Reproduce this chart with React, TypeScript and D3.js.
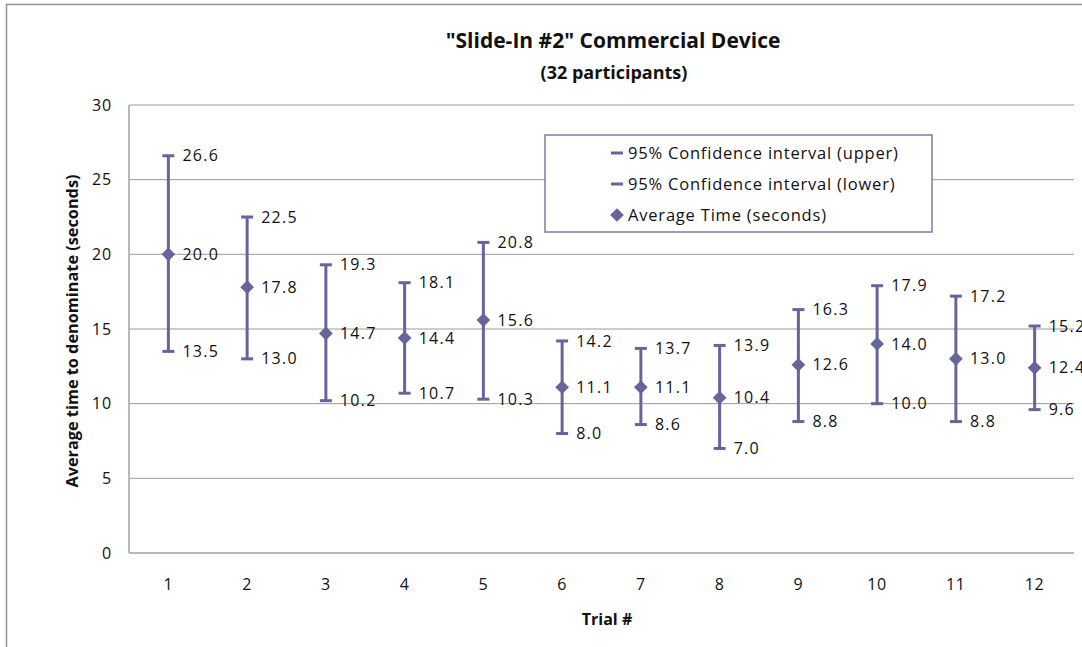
import React from "react";
import * as d3 from "d3";

const trials = ["1", "2", "3", "4", "5", "6", "7", "8", "9", "10", "11", "12"];
const avgTime = [20.0, 17.8, 14.7, 14.4, 15.6, 11.1, 11.1, 10.4, 12.6, 14.0, 13.0, 12.4];
const ciUpper = [26.6, 22.5, 19.3, 18.1, 20.8, 14.2, 13.7, 13.9, 16.3, 17.9, 17.2, 15.2];
const ciLower = [13.5, 13.0, 10.2, 10.7, 10.3, 8.0, 8.6, 7.0, 8.8, 10.0, 8.8, 9.6];
const yTicks = [0, 5, 10, 15, 20, 25, 30];
const legendItems = [
  "95% Confidence interval (upper)",
  "95% Confidence interval (lower)",
  "Average Time (seconds)",
];

const W = 1082;
const H = 647;
const FONT = "'Open Sans', sans-serif";
const SERIES = "#65659c";

export default function App() {
  const left = 129;
  const right = 1074;
  const top = 105;
  const bottom = 553;
  const x = d3.scaleBand<string>().domain(trials).range([left, right]);
  const y = d3.scaleLinear().domain([0, 30]).range([bottom, top]);
  const cx = (t: string) => (x(t) as number) + x.bandwidth() / 2;
  const diamond = d3.symbol().type(d3.symbolDiamond2).size(120)();

  return (
    <svg
      width={W}
      height={H}
      style={{ position: "fixed", left: 0, top: 0, display: "block", background: "#fff" }}
      fontFamily={FONT}
    >
      <rect x={6.5} y={4.5} width={1200} height={800} fill="#fff" stroke="#999" strokeWidth={1.6} />
      {yTicks.map((t) => (
        <line key={t} x1={left} x2={right} y1={y(t)} y2={y(t)} stroke={t === 0 ? "#b8b8b8" : "#9a9a9a"} strokeWidth={t === 0 ? 2 : 1} />
      ))}
      <line x1={left} x2={left} y1={top} y2={bottom} stroke="#b8b8b8" strokeWidth={2} />
      {yTicks.map((t) => (
        <text key={t} x={112} y={y(t)} dy="0.35em" textAnchor="end" fontSize={16} letterSpacing={0.8} fill="#111">
          {t}
        </text>
      ))}
      {trials.map((t) => (
        <text key={t} x={cx(t)} y={584} dy="0.35em" textAnchor="middle" fontSize={16} letterSpacing={0.8} fill="#111">
          {t}
        </text>
      ))}
      {trials.map((t, i) => (
        <g key={t} stroke={SERIES}>
          <line x1={cx(t)} x2={cx(t)} y1={y(ciUpper[i])} y2={y(ciLower[i])} strokeWidth={3} />
          <line x1={cx(t) - 6} x2={cx(t) + 6} y1={y(ciUpper[i])} y2={y(ciUpper[i])} strokeWidth={3} />
          <line x1={cx(t) - 6} x2={cx(t) + 6} y1={y(ciLower[i])} y2={y(ciLower[i])} strokeWidth={3} />
        </g>
      ))}
      {trials.map((t, i) => (
        <path key={t} d={diamond as string} transform={`translate(${cx(t)},${y(avgTime[i])})`} fill={SERIES} />
      ))}
      {trials.map((t, i) => (
        <g key={t} fontSize={16} letterSpacing={1.3} fill="#111">
          <text x={cx(t) + 14} y={y(ciUpper[i])} dy="0.35em">{ciUpper[i].toFixed(1)}</text>
          <text x={cx(t) + 14} y={y(avgTime[i])} dy="0.35em">{avgTime[i].toFixed(1)}</text>
          <text x={cx(t) + 14} y={y(ciLower[i])} dy="0.35em">{ciLower[i].toFixed(1)}</text>
        </g>
      ))}
      <rect x={545} y={135} width={387} height={97} fill="#fff" stroke="#7b7bac" strokeWidth={1.5} />
      {legendItems.map((item, i) => {
        const ly = 153 + i * 31;
        return (
          <g key={item}>
            {i < 2 ? (
              <line x1={611} x2={623} y1={ly} y2={ly} stroke={SERIES} strokeWidth={3} />
            ) : (
              <path d={diamond as string} transform={`translate(617,${ly})`} fill={SERIES} />
            )}
            <text x={628} y={ly} dy="0.35em" fontSize={16.5} letterSpacing={0.8} fill="#111">{item}</text>
          </g>
        );
      })}
      <text x={613} y={41} dy="0.35em" textAnchor="middle" fontSize={21} fontWeight="bold" fill="#111">
        "Slide-In #2" Commercial Device
      </text>
      <text x={614} y={73} dy="0.35em" textAnchor="middle" fontSize={18} fontWeight="bold" fill="#111">
        (32 participants)
      </text>
      <text x={607} y={619} dy="0.35em" textAnchor="middle" fontSize={16} fontWeight="bold" fill="#111">
        Trial #
      </text>
      <text transform="translate(72,331) rotate(-90)" dy="0.35em" textAnchor="middle" fontSize={16.3} fontWeight="bold" fill="#111">
        Average time to denominate (seconds)
      </text>
    </svg>
  );
}
